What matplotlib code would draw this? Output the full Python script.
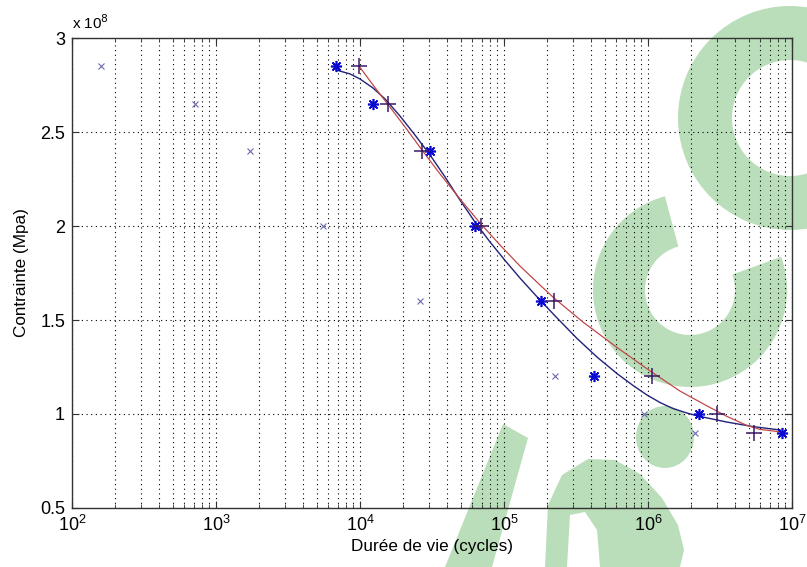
import matplotlib
matplotlib.use("Agg")
import matplotlib.pyplot as plt
from matplotlib.patches import Wedge, Ellipse, Polygon
from matplotlib.transforms import Affine2D
from matplotlib.ticker import FixedLocator, FixedFormatter, LogLocator, NullFormatter

plt.rcParams['font.family'] = ['Liberation Sans', 'DejaVu Sans']

# Test data: life (cycles) vs stress (Pa)
stress = [2.85e8, 2.65e8, 2.40e8, 2.00e8, 1.60e8, 1.20e8, 1.00e8, 0.90e8]
life_x = [160, 714, 1720, 5530, 26100, 226000, 937000, 2.12e6]
life_star = [6810, 12360, 30600, 63000, 180000, 424000, 2.25e6, 8.53e6]
life_plus = [9890, 15700, 26800, 68900, 222000, 1.07e6, 3.0e6, 5.45e6]

# Fitted curves
fit_blue_x = [6813, 8522, 10000, 12310, 14915, 18960, 24090, 30630, 38940, 49470,
              62900, 79950, 101600, 129150, 177800, 233400, 321200, 442400, 609000,
              786500, 984200, 1.212e6, 1.492e6, 1.866e6, 2.297e6, 3.537e6, 5.36e6, 8.254e6]
fit_blue_y = [2.830e8, 2.809e8, 2.782e8, 2.734e8, 2.676e8, 2.585e8, 2.484e8, 2.378e8,
              2.261e8, 2.138e8, 2.021e8, 1.915e8, 1.817e8, 1.723e8, 1.606e8, 1.511e8,
              1.402e8, 1.303e8, 1.215e8, 1.152e8, 1.101e8, 1.061e8, 1.029e8, 1.005e8,
              0.987e8, 0.957e8, 0.933e8, 0.915e8]
fit_red_x = [9842, 12310, 15650, 20540, 26960, 35940, 49470, 68130, 93810, 129150,
             177800, 222500, 353700, 609000, 1.033e6, 1.668e6, 2.569e6, 3.537e6,
             4.869e6, 5.995e6, 8.52e6]
fit_red_y = [2.851e8, 2.750e8, 2.646e8, 2.527e8, 2.404e8, 2.277e8, 2.144e8, 2.016e8,
             1.899e8, 1.787e8, 1.686e8, 1.617e8, 1.489e8, 1.354e8, 1.229e8, 1.122e8,
             1.043e8, 0.987e8, 0.939e8, 0.918e8, 0.904e8]

y_ticks = [0.5e8, 1.0e8, 1.5e8, 2.0e8, 2.5e8, 3.0e8]
y_tick_labels = ["0.5", "1", "1.5", "2", "2.5", "3"]

W, H, DPI = 807, 567, 100
fig = plt.figure(figsize=(W / DPI, H / DPI), dpi=DPI, facecolor='white')

# pixel (x right, y down) -> figure transform
px = Affine2D().scale(1, -1).translate(0, H).scale(1 / DPI) + fig.dpi_scale_trans

green = '#badeba'
logo = [
    Wedge((790, 118), 112, 0, 360, width=54),
    Wedge((690, 290), 97, -20, 255, width=52),
    Ellipse((665, 437), 58, 62),
    Polygon([(503, 424), (528, 438), (492, 567), (445, 567)]),
    Polygon([(545, 567), (548, 505), (562, 475), (588, 459), (615, 460), (640, 474),
             (662, 498), (678, 525), (684, 550), (680, 567), (600, 567), (597, 530),
             (585, 512), (570, 515), (567, 567)]),
]
for p in logo:
    p.set_transform(px)
    p.set_facecolor(green)
    p.set_edgecolor('none')
    p.set_zorder(0)
    fig.patches.append(p)

ax = fig.add_axes([72 / W, (H - 508) / H, (792 - 72) / W, (508 - 38) / H])
ax.set_zorder(1)
ax.set_facecolor('none')
ax.set_xscale('log')
ax.set_xlim(1e2, 1e7)
ax.set_ylim(0.5e8, 3.0e8)

ax.yaxis.set_major_locator(FixedLocator(y_ticks))
ax.yaxis.set_major_formatter(FixedFormatter(y_tick_labels))
ax.xaxis.set_minor_locator(LogLocator(base=10, subs=range(2, 10), numticks=20))
ax.xaxis.set_minor_formatter(NullFormatter())

dots = (0, (1, 3.2))
ax.grid(True, which='major', axis='both', color='black', linestyle=dots, linewidth=0.8)
ax.grid(True, which='minor', axis='x', color='black', linestyle=dots, linewidth=0.8)

ax.tick_params(which='both', direction='in', top=True, right=True, labelsize=13,
               color='#333333', pad=5)
ax.tick_params(which='major', length=5)
ax.tick_params(which='minor', length=3)
for s in ax.spines.values():
    s.set_color('#333333')
    s.set_linewidth(1.0)

ax.plot(fit_blue_x, fit_blue_y, color='#22227a', linewidth=1.0, zorder=3)
ax.plot(fit_red_x, fit_red_y, color='#c04848', linewidth=0.9, zorder=3)
ax.plot(life_x, stress, linestyle='none', marker='x', markersize=4, markeredgewidth=0.8,
        color='#6a6ab0', zorder=4)
ax.plot(life_star, stress, linestyle='none', marker=(8, 2, 0), markersize=8,
        markeredgewidth=1.2, color='#0a0ad0', zorder=4)
ax.plot(life_plus, stress, linestyle='none', marker='+', markersize=12,
        markeredgewidth=1.1, color='#3c1a66', zorder=4)

ax.set_xlabel('Durée de vie (cycles)', fontsize=12.3, labelpad=3)
ax.set_ylabel('Contrainte (Mpa)', fontsize=12.3, labelpad=8)
ax.text(0.0, 1.012, r'x 10$^{8}$', transform=ax.transAxes, fontsize=11,
        ha='left', va='bottom')

fig.savefig('out.png', dpi=DPI, facecolor='white')
